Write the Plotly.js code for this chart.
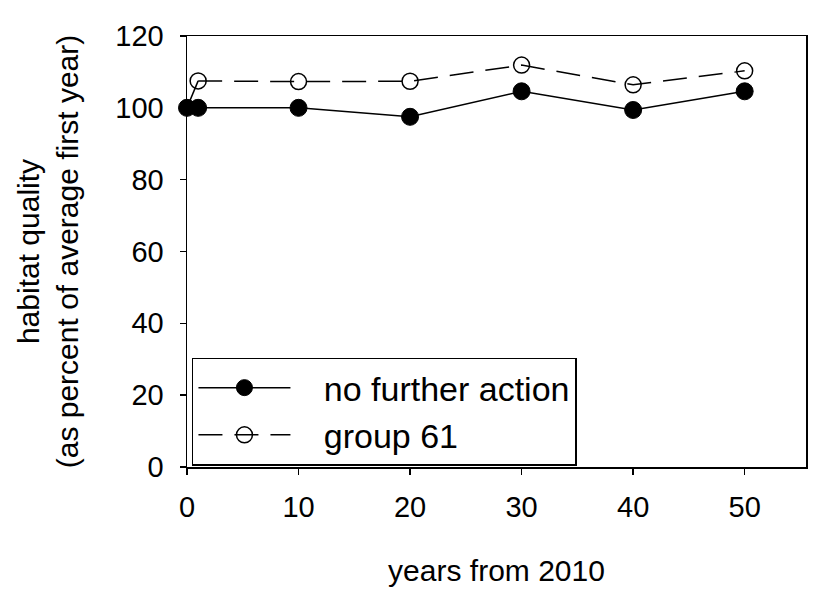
<!DOCTYPE html>
<html>
<head>
<meta charset="utf-8">
<script src="https://cdn.plot.ly/plotly-3.0.1.min.js"></script>
<style>html,body{margin:0;padding:0;background:#fff;}#chart{width:816px;height:590px;}</style>
</head>
<body>
<div id="chart"></div>
<script>
const years = [0, 1, 10, 20, 30, 40, 50];
const noFurtherAction = [100, 100, 100, 97.5, 104.6, 99.4, 104.6];
const group61 = [100, 107.5, 107.3, 107.4, 111.9, 106.4, 110.3];
const seriesNames = ["no further action", "group 61"];
const xTicks = [0, 10, 20, 30, 40, 50];
const yTicks = [0, 20, 40, 60, 80, 100, 120];

const pad = "\u00a0\u00a0\u00a0";
const data = [
  {
    x: years.slice(0, 2), y: group61.slice(0, 2), mode: "lines", showlegend: false,
    line: {color: "black", width: 1.5}, cliponaxis: false, hoverinfo: "skip"
  },
  {
    x: years, y: noFurtherAction, name: pad + seriesNames[0], mode: "lines+markers",
    line: {color: "black", width: 1.5},
    marker: {symbol: "circle", size: 17, color: "black", line: {color: "black", width: 1}},
    cliponaxis: false
  },
  {
    x: years.slice(1), y: group61.slice(1), name: pad + seriesNames[1], mode: "lines+markers",
    line: {color: "black", width: 1.5, dash: "24px,12px"},
    marker: {symbol: "circle-open", size: 16, color: "black", line: {color: "black", width: 1.5}},
    cliponaxis: false
  }
];

const layout = {
  width: 816, height: 590,
  margin: {l: 187, r: 10, t: 36, b: 123},
  paper_bgcolor: "white", plot_bgcolor: "white",
  font: {family: "Liberation Sans, Arial, sans-serif", color: "black", size: 29},
  showlegend: true,
  legend: {
    x: 0.008, y: 0.254, xanchor: "left", yanchor: "top",
    bgcolor: "white", bordercolor: "black", borderwidth: 1.5,
    font: {size: 34, color: "black"}, traceorder: "normal",
    itemwidth: 92, tracegroupgap: 0
  },
  xaxis: {
    range: [0, 55.5], tickvals: xTicks, ticktext: xTicks.map(String),
    ticks: "outside", ticklen: 6, tickwidth: 1.5, tickcolor: "black",
    showline: true, linecolor: "black", linewidth: 1.5, mirror: true,
    showgrid: false, zeroline: false,
    tickfont: {size: 29}, ticklabelstandoff: 8,
    title: {text: "years from 2010", font: {size: 30}, standoff: 37}
  },
  yaxis: {
    range: [0, 120], tickvals: yTicks, ticktext: yTicks.map(String),
    ticks: "outside", ticklen: 6, tickwidth: 1.5, tickcolor: "black",
    showline: true, linecolor: "black", linewidth: 1.5, mirror: true,
    showgrid: false, zeroline: false,
    tickfont: {size: 29}, ticklabelstandoff: 10,
    title: {text: "habitat quality<br>(as percent of average first year)", font: {size: 30}, standoff: 28}
  }
};

Plotly.newPlot("chart", data, layout, {displayModeBar: false, staticPlot: true});
</script>
</body>
</html>
